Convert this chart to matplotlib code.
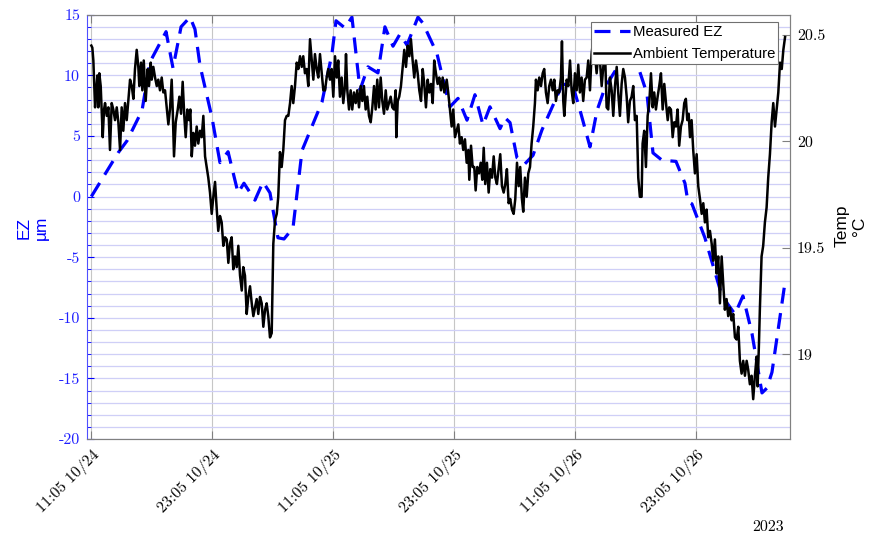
import matplotlib
matplotlib.use("Agg")
import matplotlib.pyplot as plt
from matplotlib.ticker import MultipleLocator
from datetime import datetime, timedelta

# ------------------------------------------------------------
# Data: hours after 10/24 11:05
# ------------------------------------------------------------
start = datetime(2023, 10, 24, 11, 5)

ez_hours = [0.00, 2.65, 3.54, 5.03, 5.82, 7.41, 8.10, 8.90, 9.79, 10.28,
            10.78, 11.97, 12.76, 13.56, 14.55, 15.14, 16.23, 17.03, 17.72, 18.51,
            19.11, 20.00, 20.90, 22.88, 23.87, 24.27, 25.16, 25.85, 26.65, 27.44,
            28.43, 29.12, 29.92, 30.61, 31.31, 32.40, 32.89, 34.28, 35.08, 35.57,
            36.37, 37.26, 38.05, 38.85, 39.54, 40.54, 41.03, 41.53, 42.22, 43.01,
            43.81, 44.70, 45.99, 46.69, 47.68, 48.48, 49.46, 50.16, 50.95, 52.43,
            54.12, 55.11, 55.71, 56.60, 57.99, 58.88, 59.17, 59.57, 60.86, 62.55,
            63.84, 64.63, 65.53, 66.52, 67.01, 67.51, 68.80]
ez_um = [0.0, 3.6, 4.6, 7.1, 11.1, 13.6, 10.6, 14.0, 14.8, 13.8,
         10.8, 6.5, 2.8, 3.7, 0.3, 1.1, -0.3, 1.2, 0.3, -3.4,
         -3.5, -2.6, 3.8, 7.8, 11.8, 14.5, 13.9, 14.8, 8.8, 10.7,
         10.2, 14.0, 12.4, 13.4, 12.5, 14.8, 14.3, 11.8, 9.0, 7.4,
         8.1, 6.3, 8.4, 5.9, 7.4, 5.6, 6.5, 6.1, 3.2, 2.7,
         3.4, 5.5, 7.9, 9.2, 9.4, 7.1, 4.1, 7.1, 9.0, 11.0,
         11.0, 8.5, 3.6, 3.0, 2.9, 1.1, -0.4, -0.6, -3.4, -8.2,
         -9.7, -8.2, -11.3, -16.2, -15.8, -14.5, -7.1]

temp_hours = [
    0.00, 0.10, 0.20, 0.37, 0.47, 0.60, 0.69, 0.79, 0.93, 1.13,
    1.26, 1.36, 1.53, 1.69, 1.85, 2.02, 2.18, 2.35, 2.52, 2.68,
    2.85, 3.01, 3.17, 3.34, 3.51, 3.67, 3.84, 4.01, 4.17, 4.33,
    4.50, 4.66, 4.76, 4.93, 5.06, 5.20, 5.39, 5.59, 5.72, 5.89,
    5.99, 6.15, 6.32, 6.49, 6.64, 6.81, 6.98, 7.14, 7.31, 7.48,
    7.64, 7.80, 7.97, 8.07, 8.20, 8.37, 8.57, 8.73, 8.90, 9.06,
    9.22, 9.36, 9.52, 9.69, 9.82, 9.96, 10.12, 10.28, 10.45, 10.61,
    10.78, 10.95, 11.11, 11.28, 11.44, 11.60, 11.77, 11.94, 12.10, 12.27,
    12.44, 12.59, 12.76, 12.93, 13.09, 13.26, 13.43, 13.59, 13.75, 13.92,
    14.08, 14.25, 14.42, 14.58, 14.75, 14.92, 15.07, 15.24, 15.41, 15.57,
    15.74, 15.91, 16.07, 16.23, 16.40, 16.56, 16.73, 16.90, 17.06, 17.23,
    17.39, 17.55, 17.72, 17.89, 18.05, 18.22, 18.39, 18.54, 18.71, 18.88,
    19.04, 19.21, 19.38, 19.54, 19.71, 19.87, 20.03, 20.20, 20.37, 20.53,
    20.70, 20.87, 21.02, 21.19, 21.36, 21.52, 21.69, 21.86, 22.02, 22.18,
    22.35, 22.51, 22.68, 22.85, 23.01, 23.18, 23.34, 23.50, 23.67, 23.84,
    24.00, 24.17, 24.34, 24.49, 24.66, 24.83, 24.99, 25.16, 25.26, 25.39,
    25.56, 25.72, 25.88, 26.05, 26.22, 26.38, 26.55, 26.72, 26.88, 27.04,
    27.21, 27.37, 27.54, 27.71, 27.87, 28.04, 28.20, 28.36, 28.53, 28.70,
    28.86, 29.03, 29.20, 29.35, 29.52, 29.69, 29.85, 30.02, 30.19, 30.25,
    30.39, 30.54, 30.71, 30.88, 31.04, 31.21, 31.38, 31.54, 31.70, 31.87,
    32.03, 32.20, 32.37, 32.53, 32.70, 32.87, 33.02, 33.19, 33.36, 33.52,
    33.69, 33.86, 34.01, 34.18, 34.35, 34.51, 34.68, 34.85, 35.01, 35.25,
    35.40, 35.57, 35.74, 35.90, 36.07, 36.24, 36.40, 36.56, 36.73, 36.89,
    37.06, 37.23, 37.39, 37.49, 37.66, 37.82, 37.98, 38.12, 38.28, 38.45,
    38.62, 38.78, 38.92, 39.07, 39.24, 39.41, 39.57, 39.74, 39.91, 40.07,
    40.23, 40.40, 40.56, 40.73, 40.90, 41.06, 41.22, 41.39, 41.55, 41.72,
    41.89, 42.05, 42.22, 42.39, 42.54, 42.71, 42.84, 43.01, 43.18, 43.34,
    43.51, 43.67, 43.83, 44.00, 44.10, 44.27, 44.43, 44.60, 44.77, 44.92,
    45.09, 45.26, 45.42, 45.59, 45.76, 45.92, 46.08, 46.25, 46.41, 46.58,
    46.68, 46.81, 46.91, 47.15, 47.31, 47.48, 47.64, 47.80, 47.97, 48.14,
    48.30, 48.46, 48.63, 48.79, 48.96, 49.13, 49.29, 49.46, 49.62, 49.78,
    49.95, 50.12, 50.28, 50.45, 50.62, 50.78, 50.95, 51.11, 51.27, 51.44,
    51.61, 51.77, 51.94, 52.11, 52.26, 52.43, 52.60, 52.76, 52.93, 53.10,
    53.25, 53.42, 53.59, 53.75, 53.92, 54.09, 54.25, 54.41, 54.58, 54.68,
    54.84, 55.01, 55.18, 55.34, 55.51, 55.68, 55.83, 56.00, 56.17, 56.33,
    56.50, 56.67, 56.83, 57.00, 57.17, 57.32, 57.49, 57.66, 57.82, 57.99,
    58.15, 58.31, 58.48, 58.65, 58.81, 58.97, 59.11, 59.25, 59.38, 59.54,
    59.70, 59.87, 60.04, 60.20, 60.37, 60.54, 60.70, 60.86, 61.03, 61.19,
    61.36, 61.53, 61.68, 61.85, 62.02, 62.18, 62.35, 62.52, 62.68, 62.84,
    63.01, 63.17, 63.34, 63.51, 63.67, 63.84, 64.01, 64.17, 64.33, 64.50,
    64.66, 64.83, 65.00, 65.15, 65.32, 65.49, 65.65, 65.82, 65.99, 66.09,
    66.22, 66.31, 66.48, 66.64, 66.81, 66.98, 67.14, 67.31, 67.48, 67.64,
    67.81, 67.98, 68.14, 68.31, 68.48, 68.64, 68.81,
]
temp_c = [
    20.45, 20.44, 20.38, 20.16, 20.23, 20.31, 20.16, 20.32, 20.26, 20.02,
    20.15, 20.18, 20.12, 20.16, 19.96, 20.18, 20.15, 20.10, 20.16, 20.09,
    19.96, 20.16, 20.05, 20.18, 20.10, 20.19, 20.29, 20.26, 20.20, 20.34,
    20.43, 20.35, 20.26, 20.37, 20.24, 20.38, 20.19, 20.34, 20.26, 20.37,
    20.29, 20.35, 20.30, 20.26, 20.29, 20.24, 20.30, 20.23, 20.24, 20.16,
    20.08, 20.15, 20.29, 20.15, 19.93, 20.09, 20.15, 20.21, 20.13, 20.28,
    20.12, 20.02, 20.15, 20.10, 20.15, 19.93, 20.04, 19.98, 20.07, 19.99,
    20.05, 20.02, 20.12, 19.93, 19.88, 19.83, 19.76, 19.66, 19.74, 19.81,
    19.68, 19.58, 19.65, 19.62, 19.51, 19.55, 19.54, 19.43, 19.52, 19.55,
    19.40, 19.46, 19.41, 19.51, 19.37, 19.30, 19.41, 19.37, 19.19, 19.27,
    19.32, 19.24, 19.18, 19.22, 19.26, 19.19, 19.27, 19.24, 19.13, 19.21,
    19.24, 19.18, 19.08, 19.10, 19.52, 19.63, 19.66, 19.74, 19.95, 19.88,
    19.96, 20.10, 20.12, 20.12, 20.18, 20.26, 20.18, 20.26, 20.37, 20.34,
    20.40, 20.35, 20.40, 20.32, 20.34, 20.26, 20.48, 20.38, 20.29, 20.41,
    20.34, 20.30, 20.41, 20.32, 20.24, 20.24, 20.30, 20.34, 20.29, 20.34,
    20.21, 20.40, 20.30, 20.38, 20.21, 20.30, 20.18, 20.26, 20.41, 20.24,
    20.15, 20.24, 20.15, 20.23, 20.18, 20.24, 20.16, 20.26, 20.19, 20.26,
    20.15, 20.21, 20.12, 20.09, 20.16, 20.26, 20.15, 20.29, 20.16, 20.30,
    20.19, 20.13, 20.24, 20.15, 20.18, 20.21, 20.16, 20.15, 20.24, 20.02,
    20.19, 20.21, 20.26, 20.35, 20.43, 20.35, 20.45, 20.40, 20.48, 20.38,
    20.30, 20.38, 20.32, 20.24, 20.19, 20.34, 20.27, 20.16, 20.29, 20.23,
    20.27, 20.18, 20.38, 20.32, 20.27, 20.30, 20.24, 20.30, 20.23, 20.29,
    20.23, 20.15, 20.07, 20.15, 20.02, 20.05, 20.08, 19.99, 20.02, 19.96,
    20.01, 19.90, 19.96, 19.82, 19.98, 19.88, 19.88, 19.77, 19.88, 19.85,
    19.90, 19.82, 19.97, 19.80, 19.90, 19.76, 19.87, 19.83, 19.93, 19.83,
    19.80, 19.87, 19.94, 19.79, 19.76, 19.80, 19.87, 19.71, 19.73, 19.68,
    19.66, 19.73, 19.90, 19.79, 19.88, 19.73, 19.67, 19.83, 19.74, 19.85,
    19.88, 19.99, 20.07, 20.18, 20.29, 20.24, 20.30, 20.26, 20.32, 20.34,
    20.23, 20.18, 20.26, 20.29, 20.24, 20.29, 20.19, 20.24, 20.23, 20.30,
    20.47, 20.19, 20.12, 20.29, 20.26, 20.38, 20.24, 20.18, 20.32, 20.24,
    20.36, 20.23, 20.30, 20.19, 20.29, 20.30, 20.38, 20.24, 20.41, 20.48,
    20.41, 20.32, 20.41, 20.38, 20.26, 20.35, 20.43, 20.16, 20.15, 20.30,
    20.24, 20.12, 20.26, 20.35, 20.23, 20.12, 20.27, 20.34, 20.30, 20.21,
    20.09, 20.19, 20.21, 20.26, 20.10, 20.12, 19.83, 19.74, 19.74, 19.99,
    20.05, 19.88, 20.12, 20.18, 20.32, 20.16, 20.23, 20.15, 20.21, 20.26,
    20.32, 20.15, 20.27, 20.18, 20.10, 20.16, 20.15, 20.02, 20.09, 20.07,
    20.15, 19.98, 20.07, 20.10, 20.18, 20.20, 20.10, 20.13, 20.02, 20.10,
    19.96, 19.85, 19.94, 19.79, 19.73, 19.66, 19.71, 19.62, 19.68, 19.55,
    19.58, 19.52, 19.44, 19.54, 19.38, 19.46, 19.24, 19.46, 19.33, 19.21,
    19.26, 19.18, 19.22, 19.16, 19.19, 19.08, 19.07, 19.13, 18.97, 18.91,
    18.97, 18.90, 18.97, 18.93, 18.86, 18.90, 18.79, 18.90, 18.99, 18.85,
    19.05, 19.21, 19.46, 19.51, 19.62, 19.69, 19.83, 19.94, 20.09, 20.18,
    20.07, 20.15, 20.23, 20.37, 20.34, 20.43, 20.49,
]
assert len(temp_hours) == len(temp_c)

tick_hours = [0, 12, 24, 36, 48, 60]
ez_ticks = [-20, -15, -10, -5, 0, 5, 10, 15]
temp_ticks = [19, 19.5, 20, 20.5]

# ------------------------------------------------------------
# Figure
# ------------------------------------------------------------
BLUE = "#0000ff"
GRAY = "#808080"
TICK_FONT = dict(family="cmr10", size=11.5)

t_ez = [start + timedelta(hours=h) for h in ez_hours]
t_temp = [start + timedelta(hours=h) for h in temp_hours]

fig = plt.figure(figsize=(8.72, 5.40), dpi=100)
ax = fig.add_axes([87 / 872, 1 - 439 / 540, 703 / 872, 424.3 / 540])
ax2 = ax.twinx()

ez_line, = ax.plot(t_ez, ez_um, color=BLUE, lw=2.3, dashes=(5, 3),
                   label="Measured EZ")
temp_line, = ax2.plot(t_temp, temp_c, color="black", lw=1.8,
                      label="Ambient Temperature")

ax.set_xlim(start - timedelta(hours=0.43), start + timedelta(hours=69.3))
ax.set_ylim(-20, 15)
ax2.set_ylim(18.603, 20.595)

# x ticks every 12 hours
xticks = [start + timedelta(hours=h) for h in tick_hours]
ax.set_xticks(xticks)
ax.set_xticklabels([t.strftime("%H:%M %m/%d") for t in xticks],
                   rotation=45, ha="right", va="top",
                   rotation_mode="anchor", fontdict=TICK_FONT)

ax.set_yticks(ez_ticks)
ax.set_yticklabels([str(v) for v in ez_ticks], fontdict=TICK_FONT)
ax.yaxis.set_minor_locator(MultipleLocator(1))

ax2.set_yticks(temp_ticks)
ax2.set_yticklabels(["19", "19.5", "20", "20.5"], fontdict=TICK_FONT)

# grid
ax.set_axisbelow(True)
ax.grid(True, which="both", axis="y", color="#cfcff7", lw=0.9)
ax.grid(True, which="major", axis="x", color="#c6c6c6", lw=0.8)

ax.tick_params(axis="y", which="major", direction="in", length=5,
               color=BLUE, labelcolor="#2020ff", pad=5)
ax.tick_params(axis="y", which="minor", direction="in", length=3,
               color=BLUE)
ax.tick_params(axis="x", which="major", direction="in", length=6,
               color=GRAY, top=True, pad=6)
ax2.tick_params(axis="y", direction="in", length=6, color=GRAY,
                labelcolor="black", pad=5)

for side in ["top", "bottom", "right"]:
    ax.spines[side].set_color(GRAY)
    ax2.spines[side].set_color(GRAY)
ax.spines["left"].set_color("#5050ff")
ax2.spines["left"].set_visible(False)
for sp in list(ax.spines.values()) + list(ax2.spines.values()):
    sp.set_linewidth(0.8)

# axis labels
fig.text(33 / 872, 1 - 228 / 540, "EZ\nµm", rotation=90, ha="center",
         va="center", color=BLUE, family="Liberation Sans", size=12.5,
         linespacing=1.2)
fig.text(851 / 872, 1 - 226 / 540, "Temp\n°C", rotation=90, ha="center",
         va="center", color="black", family="Liberation Sans", size=12.5,
         linespacing=1.2)

fig.text(784 / 872, 1 - 527 / 540, "2023", ha="right", va="center",
         family="cmr10", size=11.5)

# legend
leg = ax2.legend([ez_line, temp_line],
                 ["Measured EZ", "Ambient Temperature"],
                 loc="upper right",
                 bbox_to_anchor=(778 / 872, 1 - 22 / 540),
                 bbox_transform=fig.transFigure, borderaxespad=0,
                 fancybox=False, framealpha=1, edgecolor="#707070",
                 prop={"family": "Liberation Sans", "size": 10.7},
                 handlelength=2.4, handletextpad=0.2, borderpad=0.2,
                 labelspacing=0.55)
leg.get_frame().set_linewidth(0.8)

fig.savefig("out.png", dpi=100)
